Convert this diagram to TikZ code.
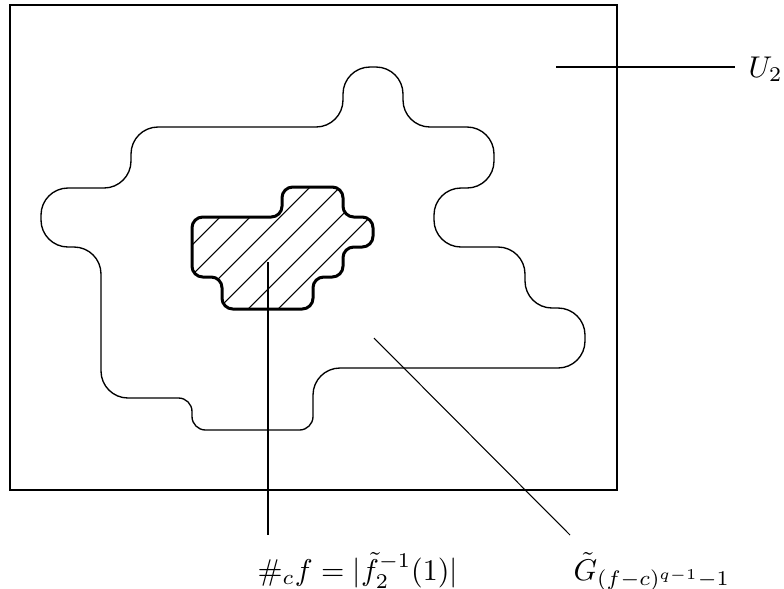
\documentclass[tikz,border=0pt]{standalone}
\usepackage{amsmath, amssymb}
\usepackage{tikz}
\usetikzlibrary{positioning}
\tikzset{
    frameline/.style={line width=0.9pt},
    blobline/.style={line width=0.45pt, rounded corners=9pt},
    coreline/.style={line width=1pt, rounded corners=3.6pt},
    hatchline/.style={line width=0.35pt},
    leader/.style={line width=0.8pt},
    thinleader/.style={line width=0.35pt},
    mathlabel/.style={inner sep=0pt, font=\normalsize}
}
\newcommand{\coreoutline}{(230,217) -- (282,217) -- (282,187) -- (343,187) -- (343,217)
    -- (373,217) -- (373,247) -- (343,247) -- (343,277) -- (313,277) -- (313,309)
    -- (222,309) -- (222,277) -- (192,277) -- (192,217) -- cycle}

\begin{document}
\begin{tikzpicture}[x=0.3333pt, y=-0.3333pt]
    \useasboundingbox (0,0) rectangle (784,588);
    \draw[frameline] (10,5) rectangle (617,490);
    \draw[blobline] (200,127) -- (343,127) -- (343,67) -- (403,67) -- (403,127)
        -- (494,127) -- (494,188) -- (434,188) -- (434,247) -- (525,247)
        -- (525,308) -- (585,308) -- (585,368) -- (313,368)
        [rounded corners=4.5pt] -- (313,430) -- (192,430) -- (192,398)
        [rounded corners=9pt] -- (101,398) -- (101,247) -- (41,247)
        -- (41,188) -- (131,188) -- (131,127) -- cycle;
    \begin{scope}
        \clip[rounded corners=3.6pt] \coreoutline;
        \foreach \c in {407,437,...,617}
            \draw[hatchline] ({\c-330},330) -- ({\c-170},170);
    \end{scope}
    \draw[coreline] \coreoutline;
    \node[mathlabel, anchor=base west] (ulabel) at (748,77) {$U_2$};
    \node[mathlabel, anchor=base west] (countlabel) at (257,580) {$\#_c f = |\tilde{f}_2^{-1}(1)|$};
    \node[mathlabel, anchor=base west] (glabel) at (573,580) {$\tilde{G}_{(f-c)^{q-1}-1}$};
    \coordinate (ustart) at (556,67);
    \coordinate (countstart) at (268,262);
    \coordinate (countend) at (268,535);
    \coordinate (gstart) at (374,338);
    \coordinate (gend) at (570,535);
    \draw[leader, shorten >=4.3pt] (ustart) -- (ustart -| ulabel.west);
    \draw[leader] (countstart) -- (countend);
    \draw[thinleader] (gstart) -- (gend);
\end{tikzpicture}
\end{document}
